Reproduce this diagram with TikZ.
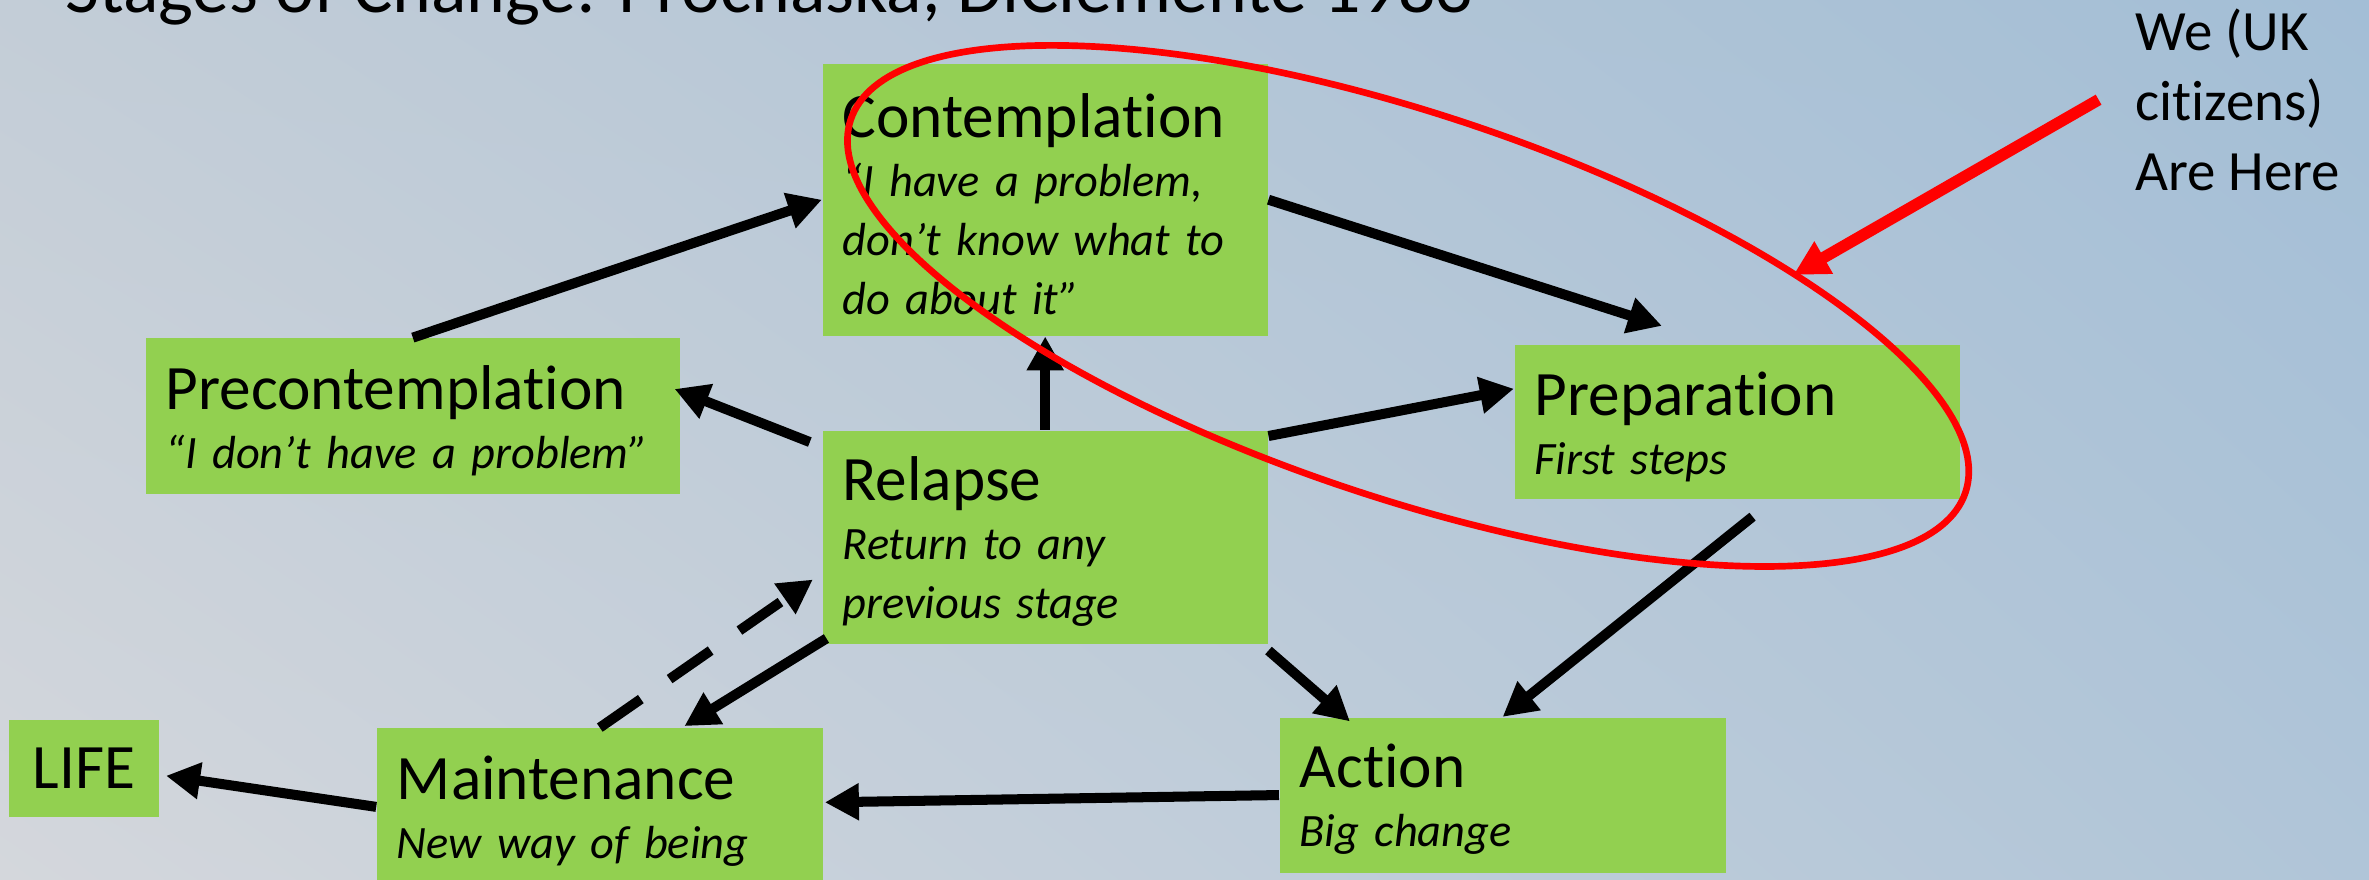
\documentclass[tikz,border=0pt]{standalone}
\usepackage{fontspec}
\setmainfont{Carlito}[Ligatures={TeX,NoCommon}]
\usetikzlibrary{arrows.meta,shadings}

\definecolor{stagegreen}{RGB}{146,208,80}
\definecolor{bgul}{RGB}{195,205,215}
\definecolor{bgur}{RGB}{163,190,214}
\definecolor{bgll}{RGB}{212,215,220}
\definecolor{bglr}{RGB}{176,197,216}

\newcommand{\stagename}[1]{{\fontsize{18}{16.8}\selectfont\upshape\rule{0pt}{15pt}#1}}

\begin{document}
\begin{tikzpicture}[
    x=0.01511cm, y=-0.01511cm,
    stage/.style={rectangle, fill=stagegreen, anchor=north west, inner xsep=0.2cm, inner ysep=0pt, align=left, font=\fontsize{13.2}{16.8}\selectfont\itshape},
    edge/.style={-{Stealth[length=3.4mm, width=3.5mm, inset=0pt]}, line width=2.85pt, draw=black},
    dedge/.style={edge, dash pattern=on 5mm off 3.5mm},
    redge/.style={-{Stealth[length=3.5mm, width=3.5mm, inset=0pt]}, line width=3.3pt, draw=red},
    oval/.style={draw=red, line width=1.9pt},
    title/.style={font=\fontsize{21}{25}\selectfont, inner sep=0pt, anchor=base west},
    note/.style={font=\fontsize{16.2}{19.9}\selectfont, inner sep=0pt, anchor=base west, align=left},
]

\useasboundingbox (0,0) rectangle (1568,582);
\shade[upper left=bgul, upper right=bgur, lower left=bgll, lower right=bglr] (0,0) rectangle (1568,582);

\node[title] (heading) at (43,8.5) {Stages of Change: Prochaska, DiClemente 1983};

% Stages
\node[stage, text width=4.051cm, minimum height=2.720cm] (contem) at (544,41.7) {\stagename{Contemplation}\\“I have a problem,\\don’t know what to\\do about it”};
\node[stage, text width=4.941cm, minimum height=1.556cm] (precon) at (96,223.5) {\stagename{Precontemplation}\\“I don’t have a problem”};
\node[stage, text width=4.057cm, minimum height=1.546cm] (prep) at (1002,227.7) {\stagename{Preparation}\\First steps};
\node[stage, text width=4.051cm, minimum height=2.131cm] (relapse) at (544,284.6) {\stagename{Relapse}\\Return to any\\previous stage};
\node[stage, align=center, text width=1.106cm, minimum height=0.967cm, font=\fontsize{18}{21}\selectfont] (life) at (5.3,476) {LIFE};
\node[stage, text width=4.057cm, minimum height=1.571cm] (maint) at (249,481.6) {\stagename{Maintenance}\\New way of being};
\node[stage, text width=4.059cm, minimum height=1.549cm] (action) at (846.5,474.5) {\stagename{Action}\\Big change};

% Transitions
\draw[edge] (precon.north) -- (contem.west);
\draw[edge] (contem.east) -- ([shift={(-50,-12)}]prep.north);
\draw[edge] ([shift={(-8,8)}]relapse.north west) -- ([shift={(-4,-18)}]precon.east);
\draw[edge] (relapse.north) -- (contem.south);
\draw[edge] ([shift={(0,4)}]relapse.north east) -- ([shift={(0,-22)}]prep.west);
\draw[edge] ([shift={(10,11)}]prep.south) -- (action.north);
\draw[edge] ([shift={(0,4)}]relapse.south east) -- ([shift={(47,3)}]action.north west);
\draw[edge] (action.west) -- ([shift={(1,-3)}]maint.east);
\draw[edge] (maint.west) -- ([shift={(4,5)}]life.east);
\draw[edge] ([shift={(3,-4)}]relapse.south west) -- ([shift={(56,-1)}]maint.north);
\draw[dedge] (maint.north) -- ([shift={(-6,28)}]relapse.west);

% We are here
\draw[oval, rotate around={-18.5:(932,202.5)}] (932,202.5) ellipse [x radius=389, y radius=127];
\node[note] (here) at (1413,126) {We (UK\\citizens)\\Are Here};
\coordinate (herept) at (1389,66);
\coordinate (ovalpt) at (1187,182);
\draw[redge] (herept) -- (ovalpt);

\end{tikzpicture}
\end{document}
